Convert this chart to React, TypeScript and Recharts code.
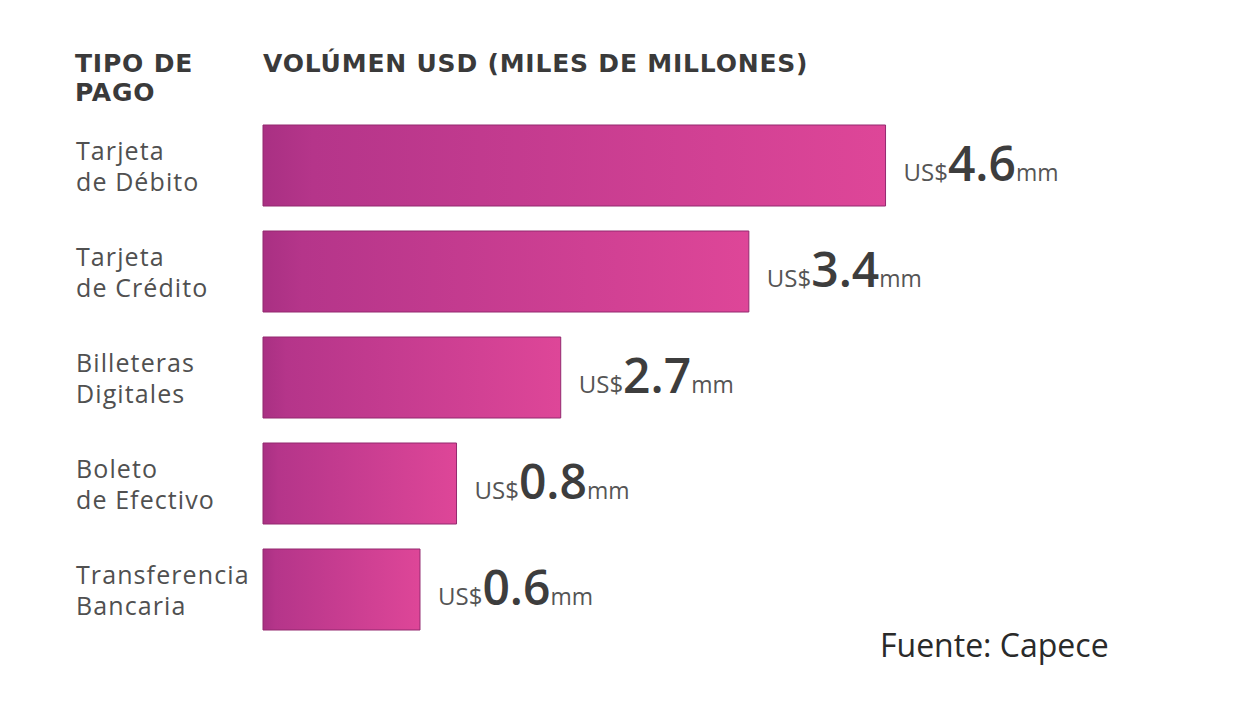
import React from 'react';
import { BarChart, Bar, XAxis, YAxis, LabelList } from 'recharts';

const categories = [
  'Tarjeta\nde Débito',
  'Tarjeta\nde Crédito',
  'Billeteras\nDigitales',
  'Boleto\nde Efectivo',
  'Transferencia\nBancaria',
];
const volumes = [4.6, 3.4, 2.7, 0.8, 0.6];
// bars in the source are not drawn to scale: these are their lengths
const barLengths = [4.6, 3.59, 2.2, 1.43, 1.16];

const data = categories.map((name, i) => ({ name, volume: volumes[i], length: barLengths[i] }));

const FONT = '"Open Sans", sans-serif';
const HEAD_FONT = '"DejaVu Sans", sans-serif';

const CategoryTick = (props: any) => {
  const { y, payload } = props;
  const lines = String(payload.value).split('\n');
  return (
    <text x={76} y={y} fontFamily={FONT} fontSize={25} letterSpacing={1.1} fill="#505050" textAnchor="start">
      {lines.map((line, i) => (
        <tspan key={i} x={76} y={y - 5 + i * 31}>{line}</tspan>
      ))}
    </text>
  );
};

const ValueLabel = (props: any) => {
  const { x, y, width, height, value } = props;
  return (
    <text x={x + width + 18} y={y + height / 2 + 15} fontFamily={FONT} fill="#4a4a4a">
      <tspan fontSize={24} fill="#555">US$</tspan>
      <tspan fontSize={48} fontWeight={600} fill="#3d3d3d">{Number(value).toFixed(1)}</tspan>
      <tspan fontSize={23} fill="#555">mm</tspan>
    </text>
  );
};

export default function App() {
  return (
    <div style={{ position: 'absolute', left: 0, top: 0, width: 1237, height: 720, background: '#fff' }}>
      <BarChart
        width={1237}
        height={720}
        layout="vertical"
        data={data}
        margin={{ top: 112, right: 162, bottom: 78, left: 0 }}
      >
        <defs>
          <linearGradient id="barGrad" x1="0" y1="0" x2="1" y2="0">
            <stop offset="0%" stopColor="#a93083" />
            <stop offset="8%" stopColor="#b5358a" />
            <stop offset="100%" stopColor="#de4698" />
          </linearGradient>
        </defs>
        <XAxis type="number" domain={[0, 6]} hide />
        <YAxis
          type="category"
          dataKey="name"
          width={263}
          axisLine={false}
          tickLine={false}
          tick={<CategoryTick />}
          interval={0}
        />
        <Bar dataKey="length" fill="url(#barGrad)" stroke="#93296f" strokeWidth={1} barSize={81} isAnimationActive={false}>
          <LabelList dataKey="volume" content={<ValueLabel />} />
        </Bar>
      </BarChart>
      <svg width={1237} height={720} style={{ position: 'absolute', left: 0, top: 0, pointerEvents: 'none' }}>
        <g fontFamily={HEAD_FONT} fontWeight={700} fontSize={25} letterSpacing={0.8} fill="#3a3a3a">
          <text x={75} y={72}>TIPO DE</text>
          <text x={75} y={101}>PAGO</text>
          <text x={263} y={72}>VOLÚMEN USD (MILES DE MILLONES)</text>
        </g>
        <text x={880} y={657} fontFamily={FONT} fontSize={32} fill="#2a2a2a">Fuente: Capece</text>
      </svg>
    </div>
  );
}
